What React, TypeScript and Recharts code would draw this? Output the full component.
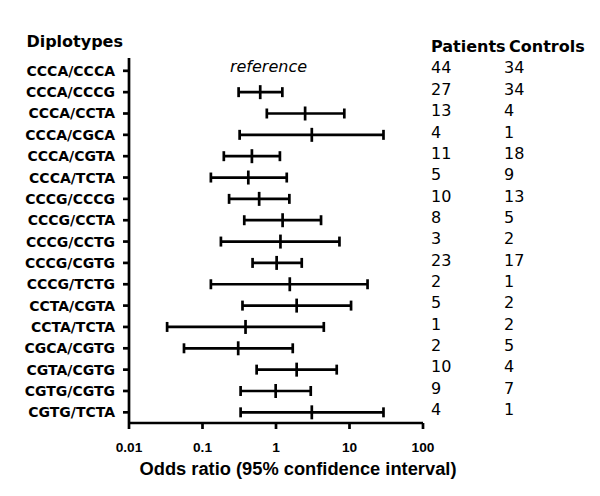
import React from "react";
import { ScatterChart, Scatter, XAxis, YAxis, ErrorBar } from "recharts";

const diplotypes = [
  "CCCA/CCCA", "CCCA/CCCG", "CCCA/CCTA", "CCCA/CGCA", "CCCA/CGTA", "CCCA/TCTA",
  "CCCG/CCCG", "CCCG/CCTA", "CCCG/CCTG", "CCCG/CGTG", "CCCG/TCTG", "CCTA/CGTA",
  "CCTA/TCTA", "CGCA/CGTG", "CGTA/CGTG", "CGTG/CGTG", "CGTG/TCTA",
];
const oddsRatio: (number | null)[] = [
  null, 0.61, 2.49, 3.07, 0.47, 0.42, 0.59, 1.23, 1.15, 1.02, 1.54, 1.91, 0.385, 0.306, 1.91, 0.99, 3.07,
];
const ciLow: (number | null)[] = [
  null, 0.31, 0.75, 0.32, 0.195, 0.13, 0.23, 0.37, 0.178, 0.48, 0.13, 0.35, 0.033, 0.056, 0.545, 0.33, 0.33,
];
const ciHigh: (number | null)[] = [
  null, 1.22, 8.5, 29, 1.13, 1.4, 1.52, 4.1, 7.3, 2.24, 17.6, 10.5, 4.47, 1.69, 6.7, 2.97, 29,
];
const patients = [44, 27, 13, 4, 11, 5, 10, 8, 3, 23, 2, 5, 1, 2, 10, 9, 4];
const controls = [34, 34, 4, 1, 18, 9, 13, 5, 2, 17, 1, 2, 2, 5, 4, 7, 1];
const xTicks = [0.01, 0.1, 1, 10, 100];
const referenceLabel = "reference";
const referenceOR = 1;

const rows = diplotypes.map((_, i) => i + 1);

const forestData = diplotypes
  .map((d, i) => ({
    name: d,
    row: i + 1,
    or: oddsRatio[i],
    err: oddsRatio[i] != null ? [(oddsRatio[i] as number) - (ciLow[i] as number), (ciHigh[i] as number) - (oddsRatio[i] as number)] : null,
  }))
  .filter((d) => d.or != null);

const refData = [{ row: 1, or: referenceOR }];

const BOLD = "'DejaVu Sans', sans-serif";
const ARIAL = "'Liberation Sans', Arial, sans-serif";
const SW = 2.7;

const CenterTick = (props: any) => {
  const { cx, cy } = props;
  return <line x1={cx} x2={cx} y1={cy - 7} y2={cy + 7} stroke="#000" strokeWidth={SW} />;
};

const RefText = (props: any) => {
  const { cx, cy } = props;
  return (
    <text x={cx - 7.5} y={cy + 1} textAnchor="middle" fontFamily={BOLD} fontStyle="italic" fontSize={16} fill="#000">
      {referenceLabel}
    </text>
  );
};

const makeCountTick = (values: number[]) => (props: any) => {
  const { x, y, payload } = props;
  return (
    <text x={x} y={y - 3} dy="0.355em" textAnchor="start" fontFamily={BOLD} fontSize={16} fill="#000">
      {values[payload.value - 1]}
    </text>
  );
};

const LeftTick = (props: any) => {
  const { x, y, payload } = props;
  return (
    <text x={x} y={y} dy="0.355em" textAnchor="end" fontFamily={BOLD} fontWeight="bold" fontSize={14} fill="#000">
      {diplotypes[payload.value - 1]}
    </text>
  );
};

const BottomTick = (props: any) => {
  const { x, y, payload } = props;
  return (
    <text x={x} y={y} dy="0.71em" textAnchor="middle" fontFamily={ARIAL} fontWeight="bold" fontSize={13.7} fill="#000">
      {String(payload.value)}
    </text>
  );
};

export default function App() {
  return (
    <div style={{ width: 584, height: 480, background: "#fff" }}>
      <ScatterChart width={584} height={480} margin={{ top: 50, right: 0, bottom: 0, left: 0 }}>
        <XAxis
          type="number"
          dataKey="or"
          scale="log"
          domain={[0.01, 100]}
          ticks={xTicks}
          allowDataOverflow
          height={65}
          axisLine={{ stroke: "#000", strokeWidth: SW }}
          tickLine={{ stroke: "#000", strokeWidth: SW }}
          tickSize={6}
          tickMargin={13}
          tick={BottomTick}
          interval={0}
          label={{
            content: (p: any) => {
              const vb = p.viewBox;
              return (
                <text x={vb.x + vb.width / 2 + 22} y={vb.y + 52} textAnchor="middle" fontFamily={ARIAL} fontWeight="bold" fontSize={18.3} fill="#000">
                  Odds ratio (95% confidence interval)
                </text>
              );
            },
          }}
        />
        <YAxis
          type="number"
          dataKey="row"
          domain={[0.4, 17.5]}
          reversed
          ticks={rows}
          interval={0}
          allowDataOverflow
          width={121}
          axisLine={{ stroke: "#000", strokeWidth: SW }}
          tickLine={{ stroke: "#000", strokeWidth: SW }}
          tickSize={6}
          tickMargin={8}
          tick={LeftTick}
          label={{
            content: (p: any) => {
              const vb = p.viewBox;
              return (
                <text x={vb.x + vb.width - 6} y={vb.y - 11.3} textAnchor="end" fontFamily={BOLD} fontWeight="bold" fontSize={16} fill="#000">
                  Diplotypes
                </text>
              );
            },
          }}
        />
        <YAxis
          yAxisId="a"
          orientation="right"
          type="number"
          dataKey="row"
          domain={[0.4, 17.5]}
          reversed
          ticks={rows}
          interval={0}
          allowDataOverflow
          width={73}
          axisLine={false}
          tickLine={false}
          tickSize={0}
          tickMargin={8}
          tick={makeCountTick(patients)}
          label={{
            content: (p: any) => {
              const vb = p.viewBox;
              return (
                <text x={vb.x + 8} y={vb.y - 6} textAnchor="start" fontFamily={BOLD} fontWeight="bold" fontSize={16} fill="#000">
                  Patients
                </text>
              );
            },
          }}
        />
        <YAxis
          yAxisId="b"
          orientation="right"
          type="number"
          dataKey="row"
          domain={[0.4, 17.5]}
          reversed
          ticks={rows}
          interval={0}
          allowDataOverflow
          width={96}
          axisLine={false}
          tickLine={false}
          tickSize={0}
          tickMargin={8}
          tick={makeCountTick(controls)}
          label={{
            content: (p: any) => {
              const vb = p.viewBox;
              return (
                <text x={vb.x + 13} y={vb.y - 6} textAnchor="start" fontFamily={BOLD} fontWeight="bold" fontSize={16} fill="#000">
                  Controls
                </text>
              );
            },
          }}
        />
        <Scatter data={refData} dataKey="or" shape={RefText} isAnimationActive={false} />
        <Scatter data={forestData} dataKey="or" shape={CenterTick} isAnimationActive={false}>
          <ErrorBar dataKey="err" direction="x" width={5} stroke="#000" strokeWidth={SW} isAnimationActive={false} />
        </Scatter>
      </ScatterChart>
    </div>
  );
}
